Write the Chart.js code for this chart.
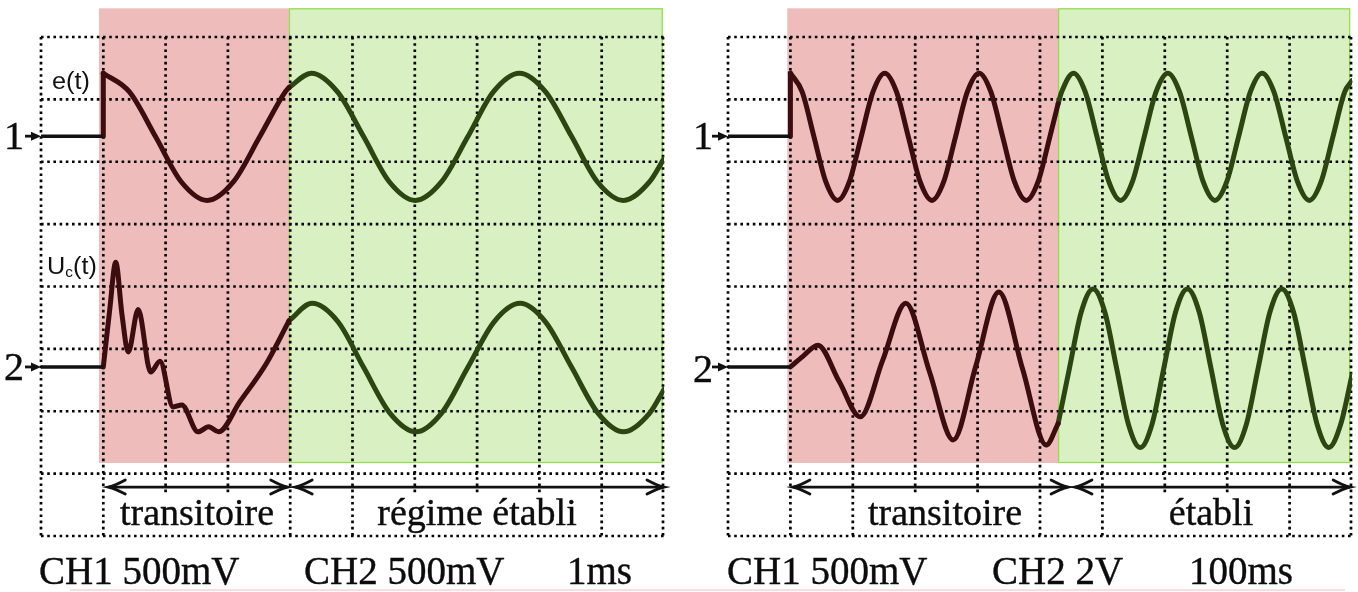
<!DOCTYPE html>
<html><head><meta charset="utf-8">
<script src="https://cdn.jsdelivr.net/npm/chart.js@4.4.1/dist/chart.umd.min.js"></script>
<style>
html,body{margin:0;padding:0;background:#fff;width:1358px;height:592px;overflow:hidden;position:relative}
canvas{position:absolute;top:0}
.t{position:absolute;line-height:1;white-space:nowrap;color:#0c0c0c;font-family:"Liberation Serif","Times New Roman",serif;-webkit-text-stroke:0.4px #0c0c0c}
.c{transform:translateX(-50%)}
.s{position:absolute;line-height:1;white-space:nowrap;color:#111;font-family:"Liberation Sans",Arial,sans-serif;font-size:23px;transform:scaleX(1.1);transform-origin:left top}
#foot{position:absolute;left:70px;top:589px;width:1275px;height:2px;background:#f7dfdf}
</style></head><body>
<canvas id="c1" width="690" height="592" style="left:0"></canvas>
<canvas id="c2" width="668" height="592" style="left:690px"></canvas>

<div class="t" style="left:4px;top:116px;font-size:40px">1</div>
<div class="t" style="left:4px;top:347px;font-size:40px">2</div>
<div class="t" style="left:693px;top:116px;font-size:40px">1</div>
<div class="t" style="left:693px;top:349px;font-size:40px">2</div>
<div class="s" style="left:52px;top:70px">e(t)</div>
<div class="s" style="left:47px;top:255px">U<span style="font-size:14px;position:relative;top:3px">c</span>(t)</div>

<div class="t c" style="left:197px;top:493px;font-size:38px">transitoire</div>
<div class="t c" style="left:477px;top:493px;font-size:38px">régime établi</div>
<div class="t c" style="left:945px;top:493px;font-size:38px">transitoire</div>
<div class="t c" style="left:1211px;top:493px;font-size:38px">établi</div>

<div class="t" style="left:39px;top:551px;font-size:39px">CH1 500mV</div>
<div class="t" style="left:304px;top:551px;font-size:39px">CH2 500mV</div>
<div class="t" style="left:567px;top:551px;font-size:39px">1ms</div>
<div class="t" style="left:727px;top:551px;font-size:39px">CH1 500mV</div>
<div class="t" style="left:992px;top:551px;font-size:39px">CH2 2V</div>
<div class="t" style="left:1189px;top:551px;font-size:39px">100ms</div>
<div id="foot"></div>

<script>
// ---------- DATA (grid divisions: x 0..10, y 0..8) ----------
// Left scope (1 ms/div)
const L_base_x = [0, 1.0];
const L_e_base_y = [6.41, 6.41];
const L_u_base_y = [2.71, 2.71];
const L_e_step_y = [6.41, 7.42];
const L_e_trans_x = [1.00,1.42,1.84,2.25,2.67,3.09,3.51,3.92,3.98];
const L_e_trans_y = [7.42,7.12,6.40,5.68,5.38,5.68,6.40,7.12,7.19];
const L_e_est_x = [3.98,4.34,4.76,5.18,5.59,6.01,6.43,6.85,7.26,7.68,8.10,8.52,8.93,9.35,9.77,10.0];
const L_e_est_y = [7.19,7.42,7.12,6.40,5.68,5.38,5.68,6.40,7.12,7.42,7.12,6.40,5.68,5.38,5.68,6.05];
const L_u_trans_x = [1.00,1.10,1.20,1.30,1.40,1.56,1.76,1.91,2.12,2.26,2.52,2.69,2.85,3.19,3.62,3.98];
const L_u_trans_y = [2.71,3.60,4.39,3.55,2.95,3.63,2.63,2.80,2.07,2.10,1.67,1.75,1.67,2.15,2.77,3.45];
const L_u_est_x = [3.98,4.35,4.77,5.18,5.60,6.02,6.43,6.85,7.27,7.69,8.10,8.52,8.94,9.35,9.77,10.0];
const L_u_est_y = [3.45,3.73,3.43,2.70,1.97,1.67,1.97,2.70,3.43,3.73,3.43,2.70,1.97,1.67,1.97,2.35];
const L_phase_trans = [0.93, 3.98];
const L_phase_est = [3.98, 9.98];
const L_arrows = [[1.08, 3.96], [4.08, 10.0]];
const L_fullCols = [0,1,4,5,9,10];

// Right scope (100 ms/div)
const R_base_x = [0, 1.0];
const R_e_base_y = [6.41, 6.41];
const R_u_base_y = [2.71, 2.71];
const R_e_step_y = [6.41, 7.42];
const R_e_trans_x = [1.000,1.189,1.378,1.567,1.756,1.945,2.134,2.323,2.512,2.701,2.890,3.079,3.268,3.457,3.646,3.835,4.024,4.213,4.402,4.591,4.780,4.969,5.158,5.290];
const R_e_trans_y = [7.42,7.12,6.40,5.68,5.38,5.68,6.40,7.12,7.42,7.12,6.40,5.68,5.38,5.68,6.40,7.12,7.42,7.12,6.40,5.68,5.38,5.68,6.40,6.93];
const R_e_est_x = [5.290,5.347,5.536,5.725,5.914,6.103,6.292,6.481,6.670,6.859,7.048,7.237,7.426,7.615,7.804,7.993,8.182,8.371,8.560,8.749,8.938,9.127,9.316,9.505,9.694,9.883,10.0];
const R_e_est_y = [6.93,7.12,7.42,7.12,6.40,5.68,5.38,5.68,6.40,7.12,7.42,7.12,6.40,5.68,5.38,5.68,6.40,7.12,7.42,7.12,6.40,5.68,5.38,5.68,6.40,7.12,7.30];
const R_u_trans_x = [1.00,1.20,1.44,1.78,2.12,2.48,2.85,3.23,3.61,3.97,4.34,4.72,5.10,5.29];
const R_u_trans_y = [2.71,2.88,3.06,2.48,1.91,2.82,3.73,2.63,1.54,2.72,3.91,2.68,1.46,1.80];
const R_u_est_x = [5.29,5.472,5.661,5.850,6.039,6.228,6.417,6.606,6.795,6.984,7.173,7.362,7.551,7.740,7.929,8.118,8.307,8.496,8.685,8.874,9.063,9.252,9.441,9.630,9.819,10.0];
const R_u_est_y = [1.80,2.69,3.59,3.96,3.59,2.69,1.79,1.42,1.79,2.69,3.59,3.96,3.59,2.69,1.79,1.42,1.79,2.69,3.59,3.96,3.59,2.69,1.79,1.42,1.79,2.58];
const R_phase_trans = [0.95, 5.29];
const R_phase_est = [5.29, 9.97];
const R_arrows = [[1.04, 5.45], [5.56, 9.97]];
const R_fullCols = [0,1,2,5,6,9,10];

const shadeY = [1.17, 8.46];
const chanY = [6.41, 2.71];
const arrowY = 0.785;

// ---------- STYLE ----------
const PINK = '#efbcbc', GREEN = '#d9f1c2', GREEN_EDGE = '#93dd50';
const TRACE_T = '#3b0d0e', TRACE_E = '#2b4611', BASE = '#111111';

function pts(xs, ys){ return xs.map((x,i)=>({x, y: ys[i]})); }

function makePlugin(cfg){
  return {
    id: 'scope',
    beforeDatasetsDraw(chart){
      const {ctx} = chart; const x = chart.scales.x, y = chart.scales.y;
      ctx.save();
      const yt = y.getPixelForValue(shadeY[1]), yb = y.getPixelForValue(shadeY[0]);
      const p0 = x.getPixelForValue(cfg.trans[0]), p1 = x.getPixelForValue(cfg.trans[1]);
      const e1 = x.getPixelForValue(cfg.est[1]);
      ctx.fillStyle = PINK; ctx.fillRect(p0, yt, p1 - p0, yb - yt);
      ctx.fillStyle = GREEN; ctx.fillRect(p1, yt, e1 - p1, yb - yt);
      ctx.strokeStyle = GREEN_EDGE; ctx.lineWidth = 1.3;
      ctx.strokeRect(p1 + 0.5, yt + 0.5, e1 - p1 - 1, yb - yt - 1);
      // dotted grid
      ctx.setLineDash([2.6, 3.6]); ctx.lineWidth = 2.7; ctx.strokeStyle = '#050505';
      for (let i = 0; i <= 8; i++) {
        const py = y.getPixelForValue(i);
        ctx.beginPath(); ctx.moveTo(x.getPixelForValue(0), py); ctx.lineTo(x.getPixelForValue(10) + 1, py); ctx.stroke();
      }
      for (let i = 0; i <= 10; i++) {
        const px = x.getPixelForValue(i) + (i === 10 ? -1 : 0);
        const low = cfg.full.includes(i) ? 0 : 0.66;
        ctx.beginPath(); ctx.moveTo(px, y.getPixelForValue(8)); ctx.lineTo(px, y.getPixelForValue(low)); ctx.stroke();
      }
      ctx.restore();
    },
    afterDatasetsDraw(chart){
      const {ctx} = chart; const x = chart.scales.x, y = chart.scales.y;
      ctx.save();
      ctx.strokeStyle = '#111'; ctx.fillStyle = '#111'; ctx.lineWidth = 2.8; ctx.lineCap = 'round';
      const ay = y.getPixelForValue(arrowY);
      const head = (tx, dir) => {
        ctx.beginPath();
        ctx.moveTo(tx - dir * 17, ay - 7);
        ctx.quadraticCurveTo(tx - dir * 7, ay - 1.5, tx, ay);
        ctx.quadraticCurveTo(tx - dir * 7, ay + 1.5, tx - dir * 17, ay + 7);
        ctx.stroke();
      };
      cfg.arrows.forEach(a => {
        const xa = x.getPixelForValue(a[0]), xb = x.getPixelForValue(a[1]);
        ctx.beginPath(); ctx.moveTo(xa + 1, ay); ctx.lineTo(xb - 1, ay); ctx.stroke();
        head(xa, -1); head(xb, 1);
      });
      // channel markers
      const gx = x.getPixelForValue(0);
      chanY.forEach(v => {
        const py = y.getPixelForValue(v);
        ctx.lineWidth = 2.8; ctx.lineCap = 'butt';
        ctx.beginPath(); ctx.moveTo(gx - 16, py); ctx.lineTo(gx - 6, py); ctx.stroke();
        ctx.beginPath(); ctx.moveTo(gx, py); ctx.lineTo(gx - 10, py - 4.5); ctx.lineTo(gx - 10, py + 4.5); ctx.closePath(); ctx.fill();
      });
      ctx.restore();
    }
  };
}

function ds(data, color, smooth){
  return { data, borderColor: color, borderWidth: 5, pointRadius: 0, fill: false,
           tension: 0, cubicInterpolationMode: smooth ? 'monotone' : 'default',
           borderCapStyle: 'round', borderJoinStyle: 'round' };
}

function build(id, S, pad){
  new Chart(document.getElementById(id), {
    type: 'line',
    data: { datasets: [
      Object.assign(ds(pts(S.bx, S.eb), BASE, false), {borderWidth: 3.4, borderCapStyle: 'butt'}),
      Object.assign(ds(pts(S.bx, S.ub), BASE, false), {borderWidth: 3.4, borderCapStyle: 'butt'}),
      ds(pts([S.bx[1], S.bx[1]], S.es), TRACE_T, false),
      ds(pts(S.etx, S.ety), TRACE_T, true),
      ds(pts(S.utx, S.uty), TRACE_T, true),
      ds(pts(S.eex, S.eey), TRACE_E, true),
      ds(pts(S.uex, S.uey), TRACE_E, true)
    ]},
    options: {
      responsive: false, animation: false, devicePixelRatio: 1, events: [],
      layout: { padding: pad },
      scales: {
        x: { type: 'linear', min: 0, max: 10, display: false },
        y: { type: 'linear', min: 0, max: 8, display: false }
      },
      plugins: { legend: { display: false }, tooltip: { enabled: false } }
    },
    plugins: [makePlugin({trans: S.pt, est: S.pe, arrows: S.ar, full: S.full})]
  });
}

build('c1', {bx: L_base_x, eb: L_e_base_y, ub: L_u_base_y, es: L_e_step_y,
  etx: L_e_trans_x, ety: L_e_trans_y, utx: L_u_trans_x, uty: L_u_trans_y,
  eex: L_e_est_x, eey: L_e_est_y, uex: L_u_est_x, uey: L_u_est_y,
  pt: L_phase_trans, pe: L_phase_est, ar: L_arrows, full: L_fullCols},
  {left: 41, right: 26, top: 37, bottom: 56});
build('c2', {bx: R_base_x, eb: R_e_base_y, ub: R_u_base_y, es: R_e_step_y,
  etx: R_e_trans_x, ety: R_e_trans_y, utx: R_u_trans_x, uty: R_u_trans_y,
  eex: R_e_est_x, eey: R_e_est_y, uex: R_u_est_x, uey: R_u_est_y,
  pt: R_phase_trans, pe: R_phase_est, ar: R_arrows, full: R_fullCols},
  {left: 38, right: 6, top: 37, bottom: 56});
</script>
</body></html>
